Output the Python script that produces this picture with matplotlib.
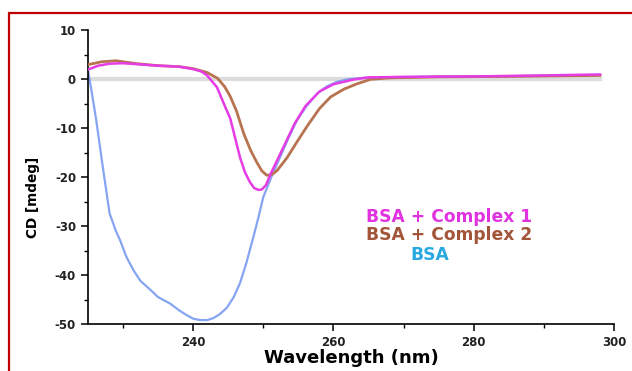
import matplotlib

matplotlib.use("Agg")
import matplotlib.pyplot as plt
from matplotlib.patches import Rectangle
from matplotlib.ticker import MultipleLocator

plt.rcParams["axes.unicode_minus"] = False

# BSA alone
bsa_wl = [225.0, 225.6, 226.2, 226.7, 227.2, 228.1, 229.0, 229.6, 230.5, 231.5,
          232.5, 233.9, 235.0, 236.7, 238.0, 239.1, 240.0, 241.0, 242.0, 242.9,
          243.8, 244.8, 245.8, 246.7, 247.6, 248.6, 249.3, 250.0, 251.2, 252.4,
          253.6, 254.8, 256.2, 257.7, 259.0, 260.5, 262.0, 264.3, 270.0, 280.0,
          290.0, 298.0]
bsa_cd = [2.0, -3.0, -8.4, -13.5, -18.6, -27.4, -31.0, -32.9, -36.3, -39.0,
          -41.2, -43.0, -44.5, -45.8, -47.2, -48.2, -48.9, -49.2, -49.2, -48.8,
          -48.0, -46.7, -44.5, -41.6, -37.5, -32.2, -28.3, -24.1, -19.8, -15.9,
          -12.0, -8.4, -5.4, -2.9, -1.5, -0.5, 0.0, 0.3, 0.5, 0.6,
          0.7, 0.9]

# BSA + Complex 1
c1_wl = [225.0, 226.5, 228.1, 230.0, 235.0, 238.0, 240.0, 241.2, 242.0, 243.4,
         244.6, 245.3, 246.0, 246.7, 247.4, 248.1, 248.7, 249.3, 249.8, 250.4,
         251.0, 252.5, 254.5, 256.0, 258.0, 260.0, 263.0, 265.0, 270.0, 280.0,
         290.0, 298.0]
c1_cd = [2.0, 2.8, 3.2, 3.3, 2.8, 2.6, 2.1, 1.6, 0.8, -1.6,
         -5.7, -8.0, -12.0, -16.0, -19.0, -21.0, -22.2, -22.6, -22.5, -21.6,
         -19.5, -15.0, -9.0, -5.5, -2.5, -1.0, 0.0, 0.4, 0.5, 0.6,
         0.8, 1.0]

# BSA + Complex 2
c2_wl = [225.0, 227.0, 229.0, 232.0, 235.0, 238.0, 240.0, 242.0, 243.5, 244.5,
         245.3, 246.2, 247.2, 248.2, 249.1, 249.8, 250.5, 251.2, 252.0, 253.4,
         254.8, 256.2, 258.0, 259.6, 261.5, 263.4, 265.3, 268.0, 275.0, 285.0,
         298.0]
c2_cd = [3.0, 3.6, 3.8, 3.2, 2.8, 2.6, 2.2, 1.4, 0.2, -1.5,
         -3.5, -6.5, -11.0, -14.5, -17.0, -18.7, -19.6, -19.5, -18.6, -16.0,
         -12.8, -9.7, -6.0, -3.6, -2.0, -0.9, 0.0, 0.3, 0.5, 0.6,
         0.8]

labels = ["BSA + Complex 1", "BSA + Complex 2", "BSA"]
label_colors = ["#e032e0", "#a3553a", "#2aa8e0"]

fig = plt.figure(figsize=(6.32, 3.71), dpi=100)
ax = fig.add_axes([0.139, 0.1267, 0.8325, 0.7913])

ax.plot([225, 298], [0, 0], color="#dcdcdc", lw=3, zorder=1)
ax.plot(bsa_wl, bsa_cd, color="#7094f0", lw=1.6, alpha=0.85, zorder=2)
ax.plot(c2_wl, c2_cd, color="#b87350", lw=2.0, zorder=3)
ax.plot(c1_wl, c1_cd, color="#e63ce6", lw=1.8, zorder=4)

ax.set_xlim(225, 300)
ax.set_ylim(-50, 10)
ax.xaxis.set_major_locator(MultipleLocator(20))
ax.xaxis.set_minor_locator(MultipleLocator(10))
ax.yaxis.set_major_locator(MultipleLocator(10))
ax.yaxis.set_minor_locator(MultipleLocator(5))
ax.spines["top"].set_visible(False)
ax.spines["right"].set_visible(False)
for s in ("left", "bottom"):
    ax.spines[s].set_linewidth(1.2)
ax.tick_params(which="major", length=5, width=1.1, labelsize=8.5)
ax.tick_params(which="minor", length=3, width=1.0)
for lab in ax.get_xticklabels() + ax.get_yticklabels():
    lab.set_fontweight("bold")
    lab.set_color("#222222")

ax.set_xlabel("Wavelength (nm)", fontsize=13, fontweight="bold", labelpad=0)
ax.set_ylabel("CD [mdeg]", fontsize=9.8, fontweight="bold", labelpad=3)
ax.yaxis.set_label_coords(-0.09, 0.43)

ax.text(0.528, 0.364, labels[0], transform=ax.transAxes, color=label_colors[0],
        fontsize=12.3, fontweight="bold", ha="left", va="center")
ax.text(0.528, 0.303, labels[1], transform=ax.transAxes, color=label_colors[1],
        fontsize=12.3, fontweight="bold", ha="left", va="center")
ax.text(0.65, 0.235, labels[2], transform=ax.transAxes, color=label_colors[2],
        fontsize=12.3, fontweight="bold", ha="center", va="center")

fig.add_artist(Rectangle((8.5 / 632, -0.2), 1.2, 1.2 - 13 / 371,
                         transform=fig.transFigure, fill=False,
                         edgecolor="#c00000", lw=1.6))

fig.savefig("out.png", dpi=100)
